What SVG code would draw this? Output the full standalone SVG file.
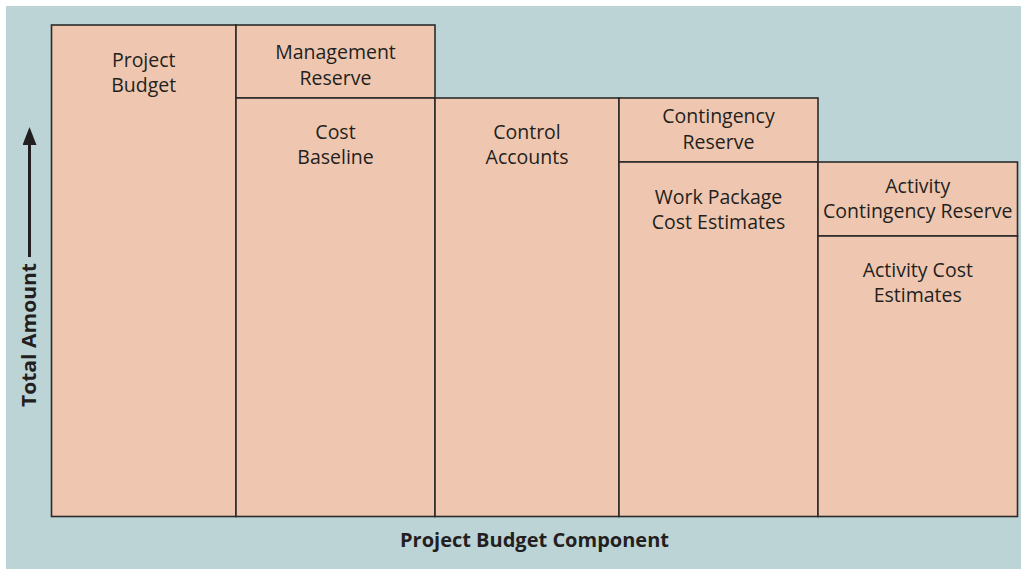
<svg xmlns="http://www.w3.org/2000/svg" width="1021" height="569" viewBox="0 0 1021 569">
<style>
.bg{fill:#bdd4d7}
.box{fill:#efc7b0;stroke:#2b2b2b;stroke-width:1.6}
.t{font-family:"Open Sans","Liberation Sans",sans-serif;font-size:19.5px;fill:#231f20;text-anchor:middle}
.b{font-family:"Open Sans","Liberation Sans",sans-serif;font-size:19.5px;font-weight:bold;fill:#231f20;text-anchor:middle}
</style>
<defs>
<marker id="ah" markerWidth="18" markerHeight="14" refX="0" refY="7" orient="auto" markerUnits="userSpaceOnUse" viewBox="0 0 18 14">
<path d="M0 0 L18 7 L0 14 Z" fill="#231f20"/>
</marker>
</defs>
<rect width="1021" height="569" fill="#ffffff"/>
<rect class="bg" x="6" y="6" width="1015" height="563"/>
<g id="project-budget">
<rect class="box" x="51.5" y="25" width="184.5" height="491.5"/>
<text class="t" x="143.75" y="67">Project</text>
<text class="t" x="143.75" y="92">Budget</text>
</g>
<g id="management-reserve">
<rect class="box" x="236" y="25" width="199" height="73"/>
<text class="t" x="335.5" y="58.5">Management</text>
<text class="t" x="335.5" y="84.5">Reserve</text>
</g>
<g id="cost-baseline">
<rect class="box" x="236" y="98" width="199" height="418.5"/>
<text class="t" x="335.5" y="139">Cost</text>
<text class="t" x="335.5" y="164">Baseline</text>
</g>
<g id="control-accounts">
<rect class="box" x="435" y="98" width="184" height="418.5"/>
<text class="t" x="527" y="139">Control</text>
<text class="t" x="527" y="164">Accounts</text>
</g>
<g id="contingency-reserve">
<rect class="box" x="619" y="98" width="199" height="64"/>
<text class="t" x="718.5" y="123">Contingency</text>
<text class="t" x="718.5" y="149">Reserve</text>
</g>
<g id="work-package-cost-estimates">
<rect class="box" x="619" y="162" width="199" height="354.5"/>
<text class="t" x="718.5" y="204">Work Package</text>
<text class="t" x="718.5" y="229">Cost Estimates</text>
</g>
<g id="activity-contingency-reserve">
<rect class="box" x="818" y="162" width="199.5" height="74"/>
<text class="t" x="917.75" y="193">Activity</text>
<text class="t" x="917.75" y="218">Contingency Reserve</text>
</g>
<g id="activity-cost-estimates">
<rect class="box" x="818" y="236" width="199.5" height="280.5"/>
<text class="t" x="917.75" y="277">Activity Cost</text>
<text class="t" x="917.75" y="302">Estimates</text>
</g>
<g id="connectors">
<line x1="29.5" y1="257" x2="29.5" y2="145" stroke="#231f20" stroke-width="3" marker-end="url(#ah)"/>
</g>
<g id="axis-labels">
<text class="b" transform="translate(36,335) rotate(-90)" x="0" y="0" textLength="144" lengthAdjust="spacingAndGlyphs">Total Amount</text>
<text class="b" x="534.5" y="547" textLength="269" lengthAdjust="spacingAndGlyphs">Project Budget Component</text>
</g>
</svg>
